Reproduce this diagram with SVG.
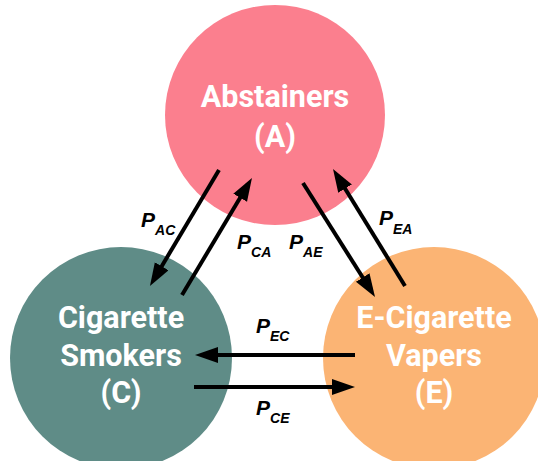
<svg xmlns="http://www.w3.org/2000/svg" width="538" height="461" viewBox="0 0 538 461">
<defs>
<style>
.node-label{font-family:Roboto,"Liberation Sans",sans-serif;font-weight:bold;font-size:30.5px;fill:#ffffff;text-anchor:middle}
.conn{stroke:#000000;stroke-width:4;fill:none;marker-end:url(#arrow)}
.p{font-family:"Liberation Sans",Arial,sans-serif;font-weight:bold;font-style:italic;font-size:21px;fill:#000000}
.sub{font-size:14px}
</style>
<marker id="arrow" markerUnits="userSpaceOnUse" markerWidth="24" markerHeight="18" refX="11" refY="8" orient="auto" viewBox="0 0 24 18">
<path d="M0,0 L23,8 L0,16 Z" fill="#000000"/>
</marker>
</defs>
<rect width="538" height="461" fill="#ffffff"/>
<g id="node-A">
<circle cx="275" cy="115" r="110" fill="#FB7F8E"/>
<text class="node-label" x="275" y="107">Abstainers</text>
<text class="node-label" x="275" y="147">(A)</text>
</g>
<g id="node-C">
<circle cx="121" cy="358" r="111" fill="#5F8C87"/>
<text class="node-label" x="121" y="328">Cigarette</text>
<text class="node-label" x="121" y="366">Smokers</text>
<text class="node-label" x="121" y="403">(C)</text>
</g>
<g id="node-E">
<circle cx="434" cy="358" r="111" fill="#FBB474"/>
<text class="node-label" x="434" y="328">E-Cigarette</text>
<text class="node-label" x="434" y="366">Vapers</text>
<text class="node-label" x="434" y="403">(E)</text>
</g>
<g id="connectors">
<line class="conn" x1="219" y1="170" x2="156.1" y2="275.7"/>
<line class="conn" x1="182" y1="295" x2="245.8" y2="188.3"/>
<line class="conn" x1="303" y1="183" x2="368.6" y2="286.8"/>
<line class="conn" x1="405" y1="286" x2="339.3" y2="179.2"/>
<line class="conn" x1="355" y1="355" x2="207" y2="355"/>
<line class="conn" x1="194" y1="387" x2="343" y2="387"/>
<text class="p" x="141" y="227">P<tspan class="sub" dx="0" dy="7.5">AC</tspan></text>
<text class="p" x="237" y="249">P<tspan class="sub" dx="0" dy="7.5">CA</tspan></text>
<text class="p" x="289" y="249">P<tspan class="sub" dx="0" dy="7.5">AE</tspan></text>
<text class="p" x="379" y="225">P<tspan class="sub" dx="0" dy="8.5">EA</tspan></text>
<text class="p" x="256" y="333">P<tspan class="sub" dx="0" dy="7.5">EC</tspan></text>
<text class="p" x="256" y="415">P<tspan class="sub" dx="0" dy="7.5">CE</tspan></text>
</g>
</svg>
